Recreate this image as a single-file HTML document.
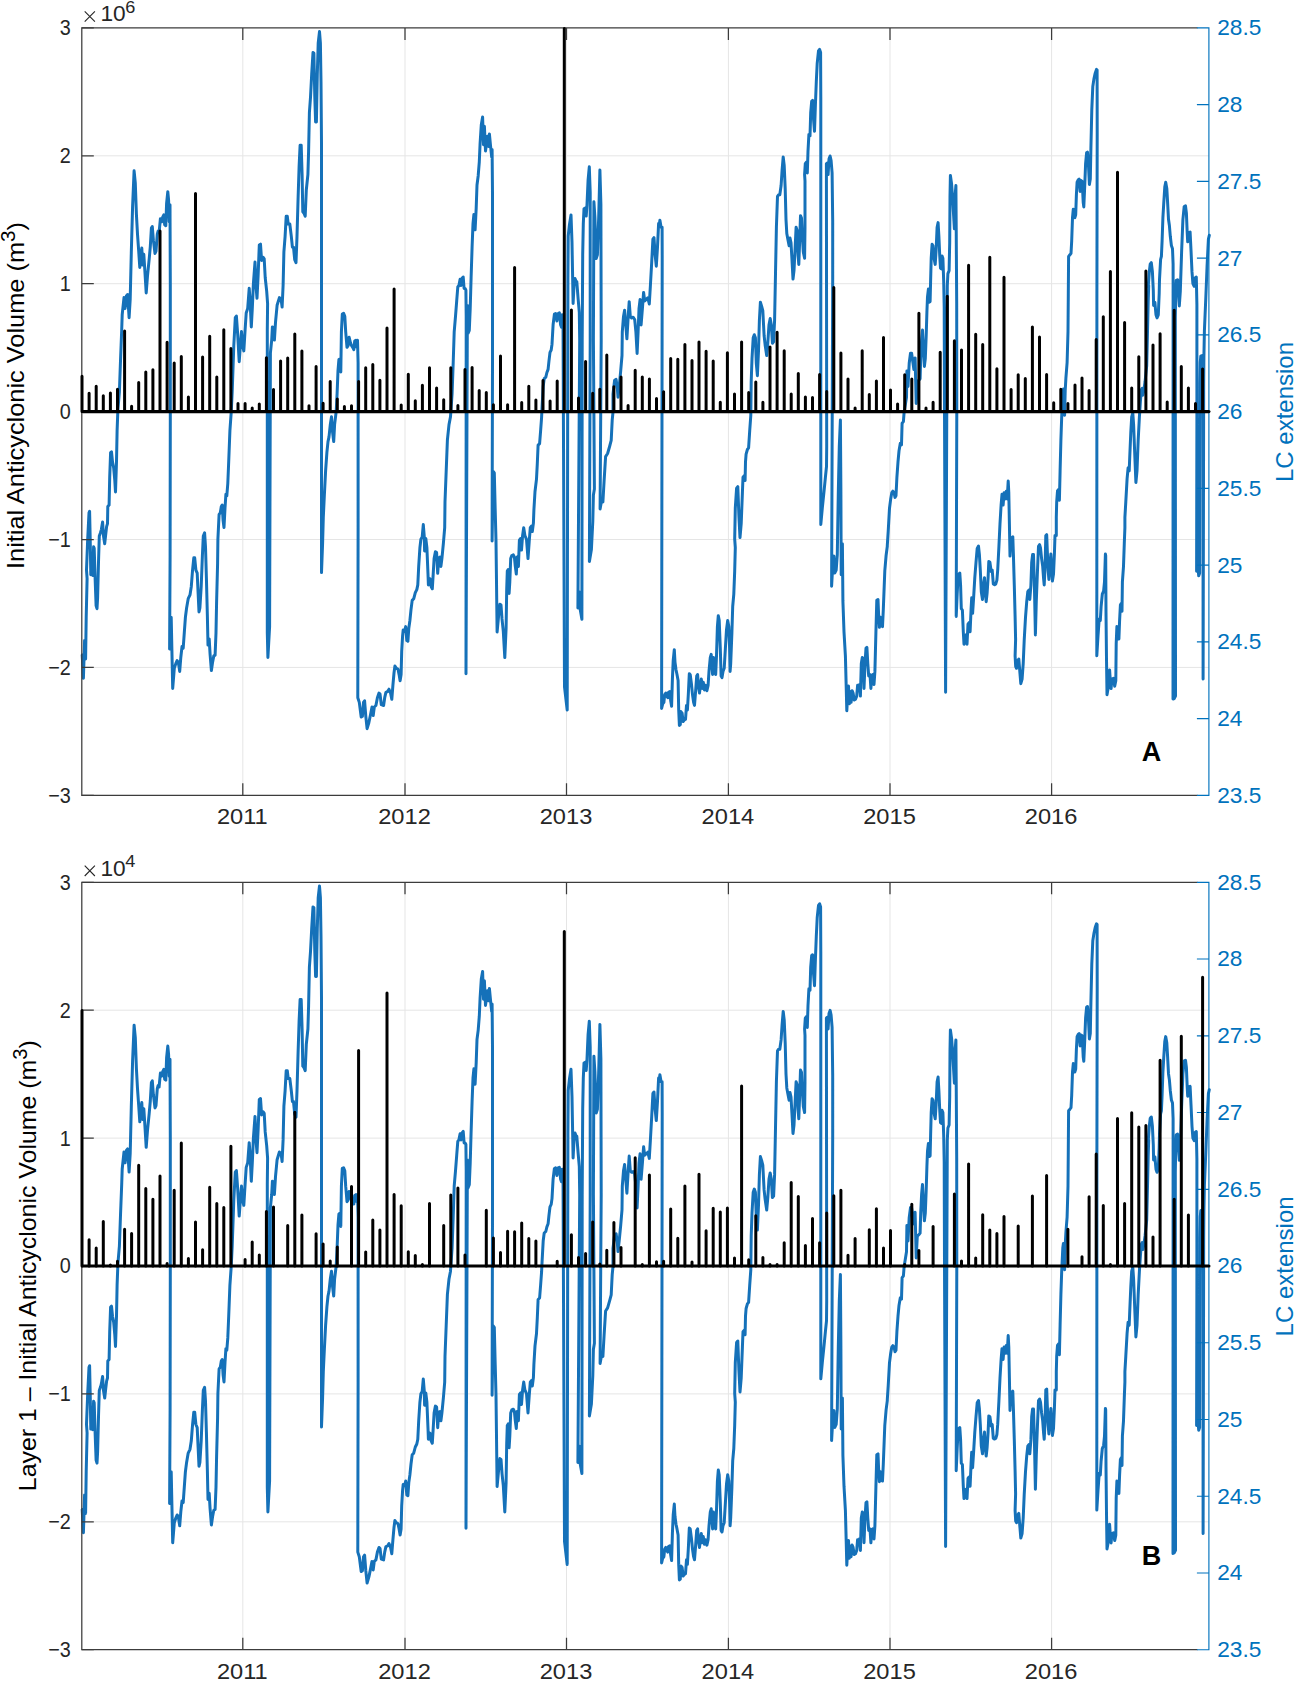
<!DOCTYPE html>
<html><head><meta charset="utf-8"><title>Figure</title>
<style>
html,body{margin:0;padding:0;background:#fff;}
svg{display:block;}
text{font-family:"Liberation Sans",sans-serif;}
.t{font-size:21.3px;fill:#262626;}
.yl{font-size:24.0px;fill:#000;}
.b{fill:#0072bd;}
.let{font-size:27px;font-weight:bold;fill:#000;}
</style></head><body>
<svg width="1299" height="1682" viewBox="0 0 1299 1682">
<rect width="1299" height="1682" fill="#fff"/>
<path d="M242.8 27.9V795.3M405.0 27.9V795.3M566.5 27.9V795.3M728.4 27.9V795.3M890.0 27.9V795.3M1051.6 27.9V795.3M81.8 155.8H1208.9M81.8 283.7H1208.9M81.8 411.6H1208.9M81.8 539.5H1208.9M81.8 667.4H1208.9" stroke="#e5e5e5" stroke-width="1" fill="none"/>
<polyline points="82.2,655.1 83.4,678.3 84.6,640.5 85.6,659.0 86.2,617.3 87.1,578.6 86.5,570.0 87.7,539.1 89.0,512.8 89.6,511.3 90.2,539.1 90.8,574.7 91.7,554.6 92.7,575.4 93.6,546.8 94.2,548.4 95.1,577.7 96.1,605.6 97.0,608.7 97.6,597.8 98.5,562.3 99.3,536.0 100.4,532.9 101.3,529.8 102.6,522.1 103.5,536.0 104.7,543.7 105.7,534.5 106.6,526.7 107.5,523.6 107.8,506.6 109.1,505.1 109.7,477.3 110.6,452.6 111.5,451.8 112.5,461.8 113.7,468.0 114.8,480.4 115.5,492.0 116.5,461.8 117.1,430.9 117.9,409.3 119.4,391.8 120.5,360.9 121.7,330.0 122.2,314.6 124.0,297.6 125.1,308.4 126.4,296.0 127.6,294.5 129.1,317.7 130.2,299.1 131.3,252.7 132.6,206.4 134.1,170.8 135.3,183.2 136.4,214.1 137.5,234.2 138.7,251.2 139.8,267.4 141.1,252.7 141.8,248.1 142.6,265.1 143.8,254.3 144.9,271.3 146.2,292.9 147.5,275.9 149.2,258.9 150.3,246.6 151.4,228.0 152.3,226.5 153.4,240.4 155.0,253.5 156.0,251.2 157.3,234.2 158.1,231.1 159.1,232.6 160.4,218.7 161.6,221.8 162.7,217.2 163.8,214.9 164.7,224.9 165.8,225.7 166.6,203.3 167.8,191.7 168.6,200.2 169.2,221.8 170.0,204.8 170.3,283.6 170.3,420.0 170.1,555.5 169.6,649.0 171.2,617.3 172.7,688.4 174.3,668.3 175.8,663.6 177.1,660.6 178.3,662.1 179.7,671.4 180.8,657.5 182.0,646.6 183.2,648.2 184.3,632.7 185.4,617.3 186.6,608.0 188.2,598.7 190.0,594.9 191.3,586.4 192.5,570.9 193.8,557.8 194.7,557.8 195.9,570.1 197.2,573.2 198.1,592.6 199.0,611.9 199.9,608.0 201.2,586.4 202.4,555.5 203.3,536.0 204.6,532.9 205.5,546.8 206.4,577.7 207.4,617.3 208.0,645.1 209.2,638.9 210.1,654.4 211.4,670.6 212.6,662.1 213.8,655.9 215.1,655.1 216.0,632.7 216.6,601.8 217.6,563.2 217.9,539.1 219.1,514.4 220.3,512.8 221.3,506.6 222.2,505.1 223.1,520.6 224.0,527.5 225.0,508.2 225.9,494.3 226.8,495.8 227.8,483.5 228.7,461.8 229.9,430.9 231.2,412.4 232.2,391.8 233.8,345.5 235.3,317.7 236.4,316.1 237.7,334.7 239.2,361.7 240.4,345.5 241.5,331.6 242.6,345.5 243.8,350.9 245.1,330.0 246.2,313.0 247.7,308.4 249.2,288.3 250.0,299.1 251.3,326.9 252.3,308.4 253.4,283.6 255.0,262.0 256.2,288.3 257.0,298.3 258.1,275.9 259.3,245.0 260.5,244.2 261.6,260.5 263.2,257.4 264.2,258.9 265.2,277.5 266.7,291.4 267.6,303.7 267.3,330.0 267.3,632.7 267.9,657.5 269.6,626.6 270.3,391.8 270.4,353.2 271.7,340.1 272.4,326.9 274.4,340.1 275.5,322.3 277.1,305.3 279.4,297.6 281.1,299.4 282.1,307.1 283.1,285.5 283.9,251.8 285.1,236.4 286.2,216.3 287.3,216.3 288.2,224.0 289.8,224.0 291.3,236.4 292.4,247.2 293.5,247.2 294.7,259.6 296.0,262.7 297.0,236.4 298.1,197.7 299.1,166.8 300.1,145.2 301.2,145.2 302.1,174.6 302.8,211.7 304.0,213.2 305.2,216.3 306.3,190.0 307.9,174.6 308.6,151.4 309.4,112.7 310.5,97.3 311.7,74.1 313.0,52.5 313.9,53.2 314.8,97.3 315.6,122.0 316.4,122.0 317.3,74.1 318.2,43.2 319.5,31.6 320.4,43.2 321.0,81.8 321.5,143.6 321.5,280.0 321.5,572.6 322.6,543.2 323.3,517.3 324.4,494.1 325.6,470.9 326.9,452.4 328.0,441.6 329.0,436.9 330.3,424.6 331.5,416.8 332.6,432.3 333.7,441.6 334.6,424.6 336.2,411.4 337.1,393.6 338.0,370.5 338.9,359.6 339.9,358.9 340.8,372.0 341.4,331.8 342.3,314.0 343.6,313.3 344.8,316.4 345.7,331.8 347.0,347.3 348.1,345.7 349.1,337.2 350.4,342.6 351.6,345.7 352.7,347.3 353.8,349.6 354.7,341.1 355.9,340.3 356.9,347.3 357.5,340.3 358.1,362.7 358.1,530.0 357.8,697.7 359.3,702.4 361.2,717.1 362.4,716.3 363.5,702.4 364.6,700.8 365.8,716.3 367.1,728.7 368.9,722.5 370.5,714.7 372.0,707.0 373.2,715.5 374.3,707.0 375.9,705.5 377.4,697.7 379.0,693.1 380.0,693.9 381.3,704.7 383.6,705.5 384.7,697.7 385.9,692.3 387.5,691.6 389.0,689.2 390.6,693.1 391.8,699.3 392.9,685.4 394.0,673.0 394.9,666.1 396.4,668.4 398.0,669.1 399.1,674.6 400.1,680.7 401.1,674.6 401.7,651.4 402.6,635.9 403.2,630.0 404.5,631.3 405.7,626.6 406.8,640.6 407.9,641.3 408.8,628.2 409.9,620.5 411.0,609.6 412.2,600.4 413.7,598.8 415.3,592.6 416.8,589.6 417.8,584.9 418.7,566.4 419.9,547.8 420.9,539.3 422.2,537.0 423.3,524.6 424.3,537.0 424.6,550.9 425.8,538.5 426.9,547.8 428.0,574.1 428.4,584.9 430.0,578.7 431.1,586.5 432.3,588.8 433.2,574.1 434.1,558.6 435.4,551.7 436.6,552.5 437.7,573.3 438.8,557.9 440.0,557.1 440.9,566.4 441.9,558.6 443.4,543.2 444.7,527.7 445.0,501.8 446.2,470.9 447.4,440.0 449.0,424.6 450.5,416.8 452.1,393.6 453.2,362.7 454.2,331.8 455.5,316.4 456.7,300.9 457.8,287.0 458.9,285.5 460.1,279.3 461.0,285.5 462.0,278.5 463.2,277.0 464.1,288.5 465.1,288.5 465.9,290.1 466.2,316.4 466.0,673.8 467.4,305.6 468.0,333.4 469.3,330.3 470.2,308.7 471.1,277.7 472.1,246.8 473.0,223.6 473.9,214.4 475.1,229.8 476.2,208.2 477.0,185.0 478.2,175.7 479.3,161.8 480.1,143.3 481.3,124.7 482.6,117.0 483.5,144.8 484.4,126.3 485.5,151.0 486.6,143.3 487.5,136.3 488.6,146.4 489.4,134.0 490.6,146.4 491.7,157.2 492.1,149.5 492.5,192.7 492.5,360.0 492.1,540.9 493.2,471.4 494.3,472.9 495.2,510.0 496.0,540.9 496.5,581.8 497.1,632.1 498.6,615.8 499.9,604.2 501.0,605.0 502.0,618.9 503.3,631.3 504.8,657.6 506.1,628.2 506.7,589.6 507.3,571.0 508.2,569.5 509.1,593.4 509.8,581.8 510.7,558.6 511.8,555.5 513.3,554.8 514.4,557.1 515.3,566.4 516.3,574.1 517.2,557.1 518.4,566.4 519.4,540.1 520.6,538.5 521.5,550.1 522.6,535.5 523.7,527.7 524.9,535.5 526.5,539.3 528.0,558.6 529.2,541.6 530.3,527.7 531.4,526.2 532.3,531.6 533.4,523.1 533.9,510.0 535.0,491.5 536.5,479.1 537.3,463.6 538.1,445.1 539.6,443.6 540.7,429.6 541.6,417.3 542.2,404.9 543.2,386.4 544.2,378.6 545.8,377.1 546.9,372.5 548.1,369.4 548.9,361.6 550.0,352.4 551.2,350.0 552.0,344.2 552.7,331.8 553.1,324.8 554.4,314.1 555.6,313.5 556.9,321.0 558.1,313.5 559.4,312.9 560.6,324.8 561.5,327.3 562.2,314.8 563.0,317.3 564.5,686.9 567.2,710.1 567.9,279.8 568.2,236.1 569.4,224.9 571.0,214.9 572.0,242.4 573.1,303.5 574.0,286.1 575.0,278.6 576.0,281.1 576.8,281.7 578.1,298.5 579.3,312.3 579.7,340.0 577.9,608.1 579.5,591.9 580.3,610.1 581.9,619.2 582.2,340.0 582.7,254.8 583.3,223.6 584.0,208.7 585.2,208.0 586.2,216.1 587.0,204.9 588.1,179.9 589.3,166.8 590.2,192.4 590.2,340.0 589.4,561.6 591.4,549.5 592.8,521.2 593.4,494.9 594.4,488.9 593.4,340.0 593.7,254.8 593.9,201.8 594.9,217.4 596.2,258.6 597.4,254.8 598.7,217.4 599.9,170.0 600.9,204.9 601.2,340.0 600.1,509.1 601.5,501.0 602.9,502.0 604.1,480.8 605.6,456.6 607.6,453.5 609.6,446.5 611.2,440.4 612.2,420.2 613.0,412.1 613.0,394.1 614.6,380.2 616.1,379.4 617.3,387.9 618.0,397.2 619.2,386.4 620.7,370.9 622.0,355.5 622.3,331.8 623.5,316.4 624.6,310.2 625.7,324.1 626.9,338.8 628.2,316.4 629.2,301.7 630.3,316.4 631.6,317.9 633.1,317.2 634.7,319.5 635.9,331.8 637.1,353.5 638.1,331.8 639.0,308.7 640.1,299.4 641.1,324.9 642.4,308.7 643.6,292.4 644.7,300.9 646.2,299.4 647.8,297.8 649.3,304.0 650.4,285.5 651.7,262.3 652.9,239.1 654.0,237.6 655.1,254.6 656.3,266.2 657.5,246.8 658.6,223.6 659.0,227.3 659.9,220.3 661.1,227.3 662.1,227.3 662.2,258.2 661.6,708.5 662.7,703.8 663.9,702.3 664.7,694.6 665.8,693.0 666.7,696.1 667.8,697.7 668.5,692.2 669.8,691.5 670.7,700.7 671.6,706.2 672.4,679.1 673.2,660.6 674.3,649.7 675.0,662.1 676.0,669.8 677.0,674.5 678.1,680.6 678.7,710.0 679.4,725.5 680.3,724.7 680.9,711.6 682.1,713.1 683.1,721.6 684.3,720.1 685.5,719.3 686.5,705.4 687.4,710.0 688.3,694.6 689.3,673.7 690.2,674.5 691.4,683.7 692.5,694.6 693.6,702.3 694.5,705.4 695.6,691.5 696.7,676.0 697.6,674.5 698.5,686.8 699.5,693.0 700.4,685.3 701.3,679.1 702.2,688.4 703.3,682.2 704.4,689.9 705.6,685.3 706.9,690.7 708.1,685.3 709.0,671.4 710.3,657.5 711.2,654.4 711.8,663.6 712.6,674.5 713.4,657.5 714.6,671.4 715.7,674.5 716.5,655.9 717.4,626.6 718.3,615.7 719.2,620.4 720.3,648.2 721.1,676.0 722.0,677.6 723.0,671.4 724.2,668.3 725.4,648.2 726.5,629.6 727.7,620.4 728.8,626.6 729.6,648.2 730.1,671.4 730.7,663.6 731.3,648.2 731.9,632.7 732.7,606.5 733.8,594.1 734.7,570.9 735.3,547.7 734.7,539.1 735.3,508.2 736.6,488.1 737.8,486.6 738.9,515.9 740.0,537.6 741.2,523.6 742.4,492.7 743.0,477.3 744.3,475.7 745.1,480.4 745.5,461.8 746.1,454.1 747.4,449.5 748.6,447.9 749.7,430.9 750.8,415.5 751.2,381.8 752.0,358.7 753.2,337.8 754.3,334.7 755.4,337.8 756.3,363.3 757.4,375.7 758.5,350.9 759.4,320.0 760.4,302.2 761.6,306.1 762.8,310.7 764.1,335.5 765.1,344.7 766.7,355.6 767.8,343.2 769.0,324.7 770.2,318.5 771.3,324.7 772.4,343.2 773.6,341.7 774.6,320.0 775.5,273.6 776.4,227.3 777.5,196.4 778.6,194.8 779.8,194.8 781.1,185.5 782.1,170.1 783.2,157.0 784.2,165.5 785.2,188.6 786.0,219.6 786.8,233.5 787.9,239.6 789.1,245.8 790.0,238.1 791.0,242.7 791.9,258.2 793.0,279.1 794.0,270.6 795.0,250.5 796.1,227.3 797.1,230.4 798.1,255.1 798.8,264.4 799.6,242.7 800.5,215.7 801.5,218.0 802.4,236.6 803.3,252.0 804.6,258.2 805.0,227.3 805.0,180.9 804.6,174.6 805.3,163.7 806.4,162.2 807.3,173.0 808.0,151.4 808.9,134.4 810.0,135.9 810.7,112.7 811.7,101.1 812.6,100.4 813.5,118.9 814.5,131.3 815.4,105.0 816.3,81.8 817.2,63.3 818.5,50.9 819.6,49.4 820.6,52.5 820.8,97.3 820.8,280.0 820.8,524.4 822.3,508.2 823.9,492.7 825.4,477.3 826.5,466.5 826.7,446.4 826.4,163.7 827.1,163.0 828.1,174.6 829.0,159.1 830.1,156.0 831.1,160.6 832.1,173.0 832.7,220.9 832.7,280.0 831.6,586.2 833.2,557.7 833.9,556.1 834.7,573.1 836.2,570.0 837.3,554.6 838.3,492.7 839.3,446.4 840.4,420.1 840.9,492.7 841.2,574.7 842.4,543.7 842.9,600.9 844.0,631.8 845.4,655.9 846.2,686.8 846.8,710.8 847.7,694.6 848.5,686.1 849.3,703.8 850.2,691.5 851.1,702.3 852.1,690.7 853.1,693.0 854.2,700.0 855.5,699.2 856.7,696.1 857.6,685.3 858.5,686.8 859.5,684.5 860.4,696.1 861.3,663.6 862.3,657.5 863.2,659.0 864.0,688.4 865.0,663.6 866.0,648.2 866.9,647.4 867.8,663.6 868.7,676.0 870.0,674.5 870.9,688.4 871.8,676.0 872.8,674.5 874.0,684.5 874.9,671.4 875.9,632.7 876.8,600.3 878.0,599.5 878.6,614.2 879.4,627.3 880.5,617.3 881.4,625.8 882.5,626.6 883.3,609.6 884.2,586.4 884.8,570.9 886.1,555.5 887.3,546.2 887.3,545.3 888.2,531.4 889.5,508.2 890.7,498.9 891.8,492.7 892.9,491.2 894.1,492.7 895.0,497.4 896.0,495.8 896.9,477.3 898.0,461.8 899.0,451.0 900.3,443.3 901.5,444.8 902.1,423.2 903.4,421.6 904.1,412.4 906.5,397.3 906.9,371.0 908.0,386.5 909.2,363.3 910.5,353.2 911.6,353.2 912.6,360.2 913.9,369.5 915.1,357.9 915.7,381.8 916.2,403.5 917.3,381.8 918.8,380.3 920.1,378.7 920.7,358.7 921.6,340.1 922.5,330.1 923.5,350.9 924.4,366.4 925.3,358.7 926.2,335.5 926.9,312.3 927.5,296.8 928.4,289.1 929.3,302.2 930.1,301.5 930.6,281.4 931.2,258.2 932.1,244.3 933.0,245.8 934.0,258.2 935.2,264.4 936.1,250.5 937.1,227.3 938.1,222.6 938.9,236.6 939.7,255.1 940.5,268.2 941.4,269.0 942.0,255.9 942.9,258.2 943.7,281.4 944.2,307.7 944.5,410.0 945.6,692.2 947.1,335.5 947.3,286.0 947.9,273.6 949.1,270.6 949.7,242.7 950.0,196.4 950.4,175.5 951.6,184.0 952.5,196.4 953.4,211.8 954.4,228.8 955.1,196.4 955.9,185.5 956.2,227.3 956.7,304.6 956.8,410.0 956.2,616.4 957.2,593.2 958.2,574.7 959.8,573.1 960.6,585.5 961.3,608.7 962.4,610.2 963.3,631.8 964.0,644.2 965.2,636.5 966.1,634.9 967.0,644.2 968.0,624.1 969.1,622.6 970.1,631.8 971.1,608.7 971.7,597.8 972.6,613.3 973.7,596.3 974.8,577.7 976.0,562.3 977.2,548.4 978.5,546.1 979.4,554.6 980.3,570.0 981.3,591.7 982.5,599.4 983.4,585.5 984.5,577.7 985.3,593.2 986.2,601.7 987.1,593.2 988.1,577.7 988.8,561.5 989.9,562.3 991.2,571.6 992.2,570.0 993.3,583.9 994.6,584.7 995.8,583.9 996.9,580.1 997.7,570.0 998.9,546.8 1000.0,523.6 1001.1,505.1 1002.0,494.3 1003.1,505.1 1004.1,492.7 1005.4,498.9 1006.3,491.2 1007.2,498.9 1008.2,481.1 1008.8,492.7 1009.4,523.6 1010.0,556.1 1010.9,539.1 1011.9,537.6 1012.8,536.8 1013.4,554.6 1014.3,585.5 1015.1,616.4 1015.6,639.6 1015.1,655.9 1015.7,666.7 1016.5,668.3 1017.7,660.6 1018.8,659.0 1019.8,671.4 1020.8,683.7 1022.1,679.1 1023.2,663.6 1024.2,640.5 1025.5,617.3 1026.7,601.8 1027.8,591.7 1028.9,590.1 1029.8,599.4 1030.9,585.5 1031.7,562.3 1032.6,554.6 1033.5,554.6 1034.4,585.5 1035.4,634.9 1036.3,600.9 1037.5,570.0 1038.5,546.3 1039.6,544.7 1040.5,547.8 1041.6,558.6 1042.7,566.4 1043.6,578.7 1044.2,584.9 1045.1,566.4 1045.8,535.5 1046.7,534.7 1047.3,550.9 1048.2,571.0 1048.9,579.5 1049.8,566.4 1050.9,554.0 1051.6,566.4 1052.4,581.1 1053.5,574.1 1054.4,554.0 1055.0,535.5 1056.3,535.5 1056.3,517.3 1056.7,501.8 1057.5,491.0 1058.6,489.5 1059.4,500.3 1060.1,470.9 1060.9,440.0 1061.7,416.8 1062.8,393.6 1063.4,389.0 1064.0,409.1 1064.6,415.3 1065.2,390.6 1065.9,378.2 1067.1,362.7 1068.0,331.8 1068.3,295.0 1068.6,256.4 1069.9,254.8 1071.0,253.3 1071.7,240.9 1072.5,217.7 1073.3,209.2 1074.2,210.0 1074.8,217.7 1075.7,214.7 1076.4,194.6 1077.1,182.2 1078.2,179.9 1079.1,179.1 1080.1,191.5 1081.0,180.6 1082.2,181.4 1083.2,202.3 1083.8,206.9 1084.7,186.8 1085.6,163.6 1086.6,152.8 1087.5,152.1 1088.4,163.6 1089.4,184.5 1090.3,179.1 1090.9,148.2 1091.8,109.6 1092.8,86.4 1094.0,78.6 1095.2,73.2 1096.5,69.4 1097.1,70.1 1097.2,132.7 1096.9,300.0 1096.8,655.7 1098.0,635.9 1099.2,618.9 1100.3,620.5 1101.1,606.6 1102.3,594.2 1103.6,591.1 1104.5,581.8 1105.4,554.0 1105.7,555.5 1106.0,612.7 1106.5,659.1 1107.0,694.7 1108.1,688.5 1108.8,674.6 1109.6,669.9 1110.4,682.3 1111.1,688.5 1111.9,679.2 1113.5,678.4 1114.7,686.2 1115.8,680.7 1116.2,643.6 1116.9,626.6 1118.1,628.2 1118.9,639.0 1119.6,620.5 1120.4,605.0 1121.2,603.5 1122.0,611.2 1122.4,581.8 1123.5,566.4 1124.3,543.2 1124.9,527.7 1124.9,517.3 1125.8,501.8 1127.1,478.7 1128.1,467.8 1129.2,470.9 1129.8,455.5 1130.8,432.3 1131.7,416.8 1132.8,413.0 1133.6,424.6 1134.8,455.5 1135.9,482.5 1137.0,470.9 1138.2,440.0 1139.4,416.8 1140.4,401.4 1141.3,389.8 1142.2,388.2 1142.8,395.2 1143.8,390.6 1145.1,381.3 1146.7,365.8 1147.5,331.8 1148.2,300.9 1148.7,285.5 1148.2,287.3 1149.3,271.8 1150.2,264.1 1151.3,262.6 1152.4,271.8 1153.3,290.4 1153.6,305.5 1154.9,302.5 1156.0,314.8 1157.0,317.9 1158.3,314.8 1159.2,293.2 1159.5,279.6 1160.6,259.5 1161.4,256.4 1162.1,240.9 1162.9,217.7 1163.8,202.3 1164.8,186.8 1165.7,182.2 1166.8,188.4 1167.6,202.3 1168.5,219.3 1169.4,225.5 1170.3,236.3 1171.4,245.6 1172.5,248.7 1173.1,264.1 1173.1,300.0 1173.0,699.0 1174.2,698.5 1175.5,696.0 1175.3,317.6 1175.8,288.9 1176.3,280.4 1177.6,279.7 1178.3,291.5 1179.3,305.9 1180.3,291.5 1181.6,252.3 1182.9,219.6 1184.2,206.5 1185.5,205.9 1186.4,213.1 1187.2,232.7 1187.7,241.8 1188.8,232.7 1190.1,232.0 1191.1,252.3 1192.0,271.9 1192.9,283.7 1194.2,286.3 1195.3,277.8 1196.3,277.1 1196.9,304.6 1196.9,419.9 1196.6,571.2 1197.4,568.0 1197.9,565.4 1198.7,575.8 1199.6,573.2 1200.0,383.0 1200.3,362.1 1200.8,356.2 1202.1,355.6 1202.7,363.4 1203.0,419.9 1203.1,679.1 1203.7,383.0 1203.9,356.9 1204.4,330.7 1205.8,298.0 1207.1,265.4 1208.4,239.2 1209.3,235.3" stroke="#1571b9" stroke-width="3" fill="none" stroke-linejoin="round" stroke-linecap="round"/>
<path d="M81.8 27.9H1196.9M81.8 795.3H1196.9M81.8 27.9V795.3" stroke="#3c3c3c" stroke-width="1.25" fill="none" stroke-linecap="square"/>
<path d="M1196.9 27.9H1208.9V795.3H1196.9" stroke="#0072bd" stroke-width="1.15" fill="none"/>
<path d="M242.8 27.9v12M242.8 795.3v-12M405.0 27.9v12M405.0 795.3v-12M566.5 27.9v12M566.5 795.3v-12M728.4 27.9v12M728.4 795.3v-12M890.0 27.9v12M890.0 795.3v-12M1051.6 27.9v12M1051.6 795.3v-12M81.8 27.9h12M81.8 155.8h12M81.8 283.7h12M81.8 411.6h12M81.8 539.5h12M81.8 667.4h12M81.8 795.3h12" stroke="#3c3c3c" stroke-width="1.25" fill="none"/>
<path d="M1208.9 104.6h-12M1208.9 181.4h-12M1208.9 258.1h-12M1208.9 334.9h-12M1208.9 411.6h-12M1208.9 488.3h-12M1208.9 565.1h-12M1208.9 641.8h-12M1208.9 718.6h-12" stroke="#0072bd" stroke-width="1.15" fill="none"/>
<path d="M82.0 411.6V376.2M89.1 411.6V393.2M96.2 411.6V386.3M103.3 411.6V395.8M110.4 411.6V392.9M117.5 411.6V389.3M124.6 411.6V331.1M131.6 411.6V406.3M138.7 411.6V382.4M145.8 411.6V371.9M152.9 411.6V369.7M160.0 411.6V230.9M167.1 411.6V342.2M174.2 411.6V363.1M181.3 411.6V356.6M188.4 411.6V397.1M195.5 411.6V193.4M202.6 411.6V356.9M209.7 411.6V336.3M216.8 411.6V377.0M223.8 411.6V329.8M230.9 411.6V348.4M238.0 411.6V403.6M245.1 411.6V403.6M252.2 411.6V407.9M259.3 411.6V404.0M266.4 411.6V357.7M273.5 411.6V389.6M280.6 411.6V360.9M287.7 411.6V357.9M294.8 411.6V334.0M301.9 411.6V351.0M309.0 411.6V405.8M316.1 411.6V366.4M323.1 411.6V403.2M330.2 411.6V381.6M337.3 411.6V398.9M344.4 411.6V406.6M351.5 411.6V405.8M358.6 411.6V381.6M365.7 411.6V367.7M372.8 411.6V364.6M379.9 411.6V380.3M387.0 411.6V328.1M394.1 411.6V289.1M401.2 411.6V405.1M408.3 411.6V374.2M415.3 411.6V400.7M422.4 411.6V385.3M429.5 411.6V367.7M436.6 411.6V388.1M443.7 411.6V399.7M450.8 411.6V367.7M457.9 411.6V405.4M465.0 411.6V369.6M472.1 411.6V367.6M479.2 411.6V390.4M486.3 411.6V392.4M493.4 411.6V404.7M500.5 411.6V356.1M507.6 411.6V404.7M514.6 411.6V267.5M521.7 411.6V402.4M528.8 411.6V386.2M535.9 411.6V400.1M543.0 411.6V380.5M550.1 411.6V400.9M557.2 411.6V381.1M564.3 411.6V28.6M571.4 411.6V309.9M578.5 411.6V398.1M585.6 411.6V361.5M592.7 411.6V393.2M599.8 411.6V389.3M606.8 411.6V355.1M613.9 411.6V386.7M621.0 411.6V376.9M628.1 411.6V405.5M635.2 411.6V370.3M642.3 411.6V376.9M649.4 411.6V378.9M656.5 411.6V398.6M663.6 411.6V391.7M670.7 411.6V358.5M677.8 411.6V359.3M684.9 411.6V344.6M692.0 411.6V360.5M699.0 411.6V341.9M706.1 411.6V351.2M713.2 411.6V361.1M720.3 411.6V402.2M727.4 411.6V352.8M734.5 411.6V394.0M741.6 411.6V341.9M748.7 411.6V392.5M755.8 411.6V382.1M762.9 411.6V402.2M770.0 411.6V346.9M777.1 411.6V332.2M784.2 411.6V350.8M791.2 411.6V394.0M798.3 411.6V373.5M805.4 411.6V397.1M812.5 411.6V397.4M819.6 411.6V374.4M826.7 411.6V391.4M833.8 411.6V287.4M840.9 411.6V353.1M848.0 411.6V379.0M855.1 411.6V407.9M862.2 411.6V350.8M869.3 411.6V394.5M876.4 411.6V380.9M883.5 411.6V337.6M890.5 411.6V389.9M897.6 411.6V404.1M904.7 411.6V374.7M911.8 411.6V379.0M918.9 411.6V313.2M926.0 411.6V407.9M933.1 411.6V402.2M940.2 411.6V352.3M947.3 411.6V296.2M954.4 411.6V340.7M961.5 411.6V350.0M968.6 411.6V265.3M975.7 411.6V334.2M982.7 411.6V344.6M989.8 411.6V257.2M996.9 411.6V368.8M1004.0 411.6V277.3M1011.1 411.6V389.4M1018.2 411.6V374.7M1025.3 411.6V378.6M1032.4 411.6V327.1M1039.5 411.6V337.0M1046.6 411.6V374.5M1053.7 411.6V402.7M1060.8 411.6V389.3M1067.9 411.6V403.5M1075.0 411.6V385.0M1082.0 411.6V378.0M1089.1 411.6V390.4M1096.2 411.6V339.4M1103.3 411.6V316.7M1110.4 411.6V271.6M1117.5 411.6V172.3M1124.6 411.6V322.4M1131.7 411.6V388.1M1138.8 411.6V356.8M1145.9 411.6V270.9M1153.0 411.6V345.1M1160.1 411.6V333.7M1167.2 411.6V402.0M1174.2 411.6V310.2M1181.3 411.6V366.5M1188.4 411.6V388.0M1195.5 411.6V403.4M1202.6 411.6V368.9" stroke="#000" stroke-width="3" fill="none" stroke-linecap="round"/>
<line x1="82.8" y1="411.6" x2="1208.9" y2="411.6" stroke="#000" stroke-width="3.2" stroke-linecap="round"/>
<text transform="translate(242.3,824.1) scale(1.11,1)" text-anchor="middle" class="t">2011</text>
<text transform="translate(404.5,824.1) scale(1.11,1)" text-anchor="middle" class="t">2012</text>
<text transform="translate(566.0,824.1) scale(1.11,1)" text-anchor="middle" class="t">2013</text>
<text transform="translate(727.9,824.1) scale(1.11,1)" text-anchor="middle" class="t">2014</text>
<text transform="translate(889.5,824.1) scale(1.11,1)" text-anchor="middle" class="t">2015</text>
<text transform="translate(1051.1,824.1) scale(1.11,1)" text-anchor="middle" class="t">2016</text>
<text transform="translate(70.8,35.3) scale(0.93,1)" text-anchor="end" class="t">3</text>
<text transform="translate(70.8,163.2) scale(0.93,1)" text-anchor="end" class="t">2</text>
<text transform="translate(70.8,291.1) scale(0.93,1)" text-anchor="end" class="t">1</text>
<text transform="translate(70.8,419.0) scale(0.93,1)" text-anchor="end" class="t">0</text>
<text transform="translate(70.8,546.9) scale(0.93,1)" text-anchor="end" class="t">−1</text>
<text transform="translate(70.8,674.8) scale(0.93,1)" text-anchor="end" class="t">−2</text>
<text transform="translate(70.8,802.7) scale(0.93,1)" text-anchor="end" class="t">−3</text>
<text transform="translate(1217.2,35.3) scale(1.065,1)" text-anchor="start" class="t b">28.5</text>
<text transform="translate(1217.2,112.0) scale(1.065,1)" text-anchor="start" class="t b">28</text>
<text transform="translate(1217.2,188.8) scale(1.065,1)" text-anchor="start" class="t b">27.5</text>
<text transform="translate(1217.2,265.5) scale(1.065,1)" text-anchor="start" class="t b">27</text>
<text transform="translate(1217.2,342.3) scale(1.065,1)" text-anchor="start" class="t b">26.5</text>
<text transform="translate(1217.2,419.0) scale(1.065,1)" text-anchor="start" class="t b">26</text>
<text transform="translate(1217.2,495.7) scale(1.065,1)" text-anchor="start" class="t b">25.5</text>
<text transform="translate(1217.2,572.5) scale(1.065,1)" text-anchor="start" class="t b">25</text>
<text transform="translate(1217.2,649.2) scale(1.065,1)" text-anchor="start" class="t b">24.5</text>
<text transform="translate(1217.2,726.0) scale(1.065,1)" text-anchor="start" class="t b">24</text>
<text transform="translate(1217.2,802.7) scale(1.065,1)" text-anchor="start" class="t b">23.5</text>
<path d="M84.7 11.3l10.2 10.3m0 -10.3l-10.2 10.3" stroke="#262626" stroke-width="1.1" fill="none"/>
<text transform="translate(100.4,21.4) scale(1.065,1)" text-anchor="start" class="t">10</text>
<text transform="translate(125.3,12.6) scale(1.065,1)" text-anchor="start" class="t" style="font-size:17px">6</text>
<text transform="translate(24.4,569.0) rotate(-90)" class="yl" textLength="347" lengthAdjust="spacingAndGlyphs">Initial Anticyclonic Volume (m<tspan dy="-9" font-size="19.5">3</tspan><tspan dy="9">)</tspan></text>
<text transform="translate(1293.2,412.0) rotate(-90)" text-anchor="middle" class="yl b">LC extension</text>
<text x="1151.5" y="761.1" text-anchor="middle" class="let">A</text>
<path d="M242.8 882.3V1649.7M405.0 882.3V1649.7M566.5 882.3V1649.7M728.4 882.3V1649.7M890.0 882.3V1649.7M1051.6 882.3V1649.7M81.8 1010.2H1208.9M81.8 1138.1H1208.9M81.8 1266.0H1208.9M81.8 1393.9H1208.9M81.8 1521.8H1208.9" stroke="#e5e5e5" stroke-width="1" fill="none"/>
<polyline points="82.2,1509.5 83.4,1532.7 84.6,1494.9 85.6,1513.4 86.2,1471.7 87.1,1433.0 86.5,1424.4 87.7,1393.5 89.0,1367.2 89.6,1365.7 90.2,1393.5 90.8,1429.1 91.7,1409.0 92.7,1429.8 93.6,1401.2 94.2,1402.8 95.1,1432.1 96.1,1460.0 97.0,1463.1 97.6,1452.2 98.5,1416.7 99.3,1390.4 100.4,1387.3 101.3,1384.2 102.6,1376.5 103.5,1390.4 104.7,1398.1 105.7,1388.9 106.6,1381.1 107.5,1378.0 107.8,1361.0 109.1,1359.5 109.7,1331.7 110.6,1307.0 111.5,1306.2 112.5,1316.2 113.7,1322.4 114.8,1334.8 115.5,1346.4 116.5,1316.2 117.1,1285.3 117.9,1263.7 119.4,1246.2 120.5,1215.3 121.7,1184.4 122.2,1169.0 124.0,1152.0 125.1,1162.8 126.4,1150.4 127.6,1148.9 129.1,1172.1 130.2,1153.5 131.3,1107.1 132.6,1060.8 134.1,1025.2 135.3,1037.6 136.4,1068.5 137.5,1088.6 138.7,1105.6 139.8,1121.8 141.1,1107.1 141.8,1102.5 142.6,1119.5 143.8,1108.7 144.9,1125.7 146.2,1147.3 147.5,1130.3 149.2,1113.3 150.3,1101.0 151.4,1082.4 152.3,1080.9 153.4,1094.8 155.0,1107.9 156.0,1105.6 157.3,1088.6 158.1,1085.5 159.1,1087.0 160.4,1073.1 161.6,1076.2 162.7,1071.6 163.8,1069.3 164.7,1079.3 165.8,1080.1 166.6,1057.7 167.8,1046.1 168.6,1054.6 169.2,1076.2 170.0,1059.2 170.3,1138.0 170.3,1274.4 170.1,1409.9 169.6,1503.4 171.2,1471.7 172.7,1542.8 174.3,1522.7 175.8,1518.0 177.1,1515.0 178.3,1516.5 179.7,1525.8 180.8,1511.9 182.0,1501.0 183.2,1502.6 184.3,1487.1 185.4,1471.7 186.6,1462.4 188.2,1453.1 190.0,1449.3 191.3,1440.8 192.5,1425.3 193.8,1412.2 194.7,1412.2 195.9,1424.5 197.2,1427.6 198.1,1447.0 199.0,1466.3 199.9,1462.4 201.2,1440.8 202.4,1409.9 203.3,1390.4 204.6,1387.3 205.5,1401.2 206.4,1432.1 207.4,1471.7 208.0,1499.5 209.2,1493.3 210.1,1508.8 211.4,1525.0 212.6,1516.5 213.8,1510.3 215.1,1509.5 216.0,1487.1 216.6,1456.2 217.6,1417.6 217.9,1393.5 219.1,1368.8 220.3,1367.2 221.3,1361.0 222.2,1359.5 223.1,1375.0 224.0,1381.9 225.0,1362.6 225.9,1348.7 226.8,1350.2 227.8,1337.9 228.7,1316.2 229.9,1285.3 231.2,1266.8 232.2,1246.2 233.8,1199.9 235.3,1172.1 236.4,1170.5 237.7,1189.1 239.2,1216.1 240.4,1199.9 241.5,1186.0 242.6,1199.9 243.8,1205.3 245.1,1184.4 246.2,1167.4 247.7,1162.8 249.2,1142.7 250.0,1153.5 251.3,1181.3 252.3,1162.8 253.4,1138.0 255.0,1116.4 256.2,1142.7 257.0,1152.7 258.1,1130.3 259.3,1099.4 260.5,1098.6 261.6,1114.9 263.2,1111.8 264.2,1113.3 265.2,1131.9 266.7,1145.8 267.6,1158.1 267.3,1184.4 267.3,1487.1 267.9,1511.9 269.6,1481.0 270.3,1246.2 270.4,1207.6 271.7,1194.5 272.4,1181.3 274.4,1194.5 275.5,1176.7 277.1,1159.7 279.4,1152.0 281.1,1153.8 282.1,1161.5 283.1,1139.9 283.9,1106.2 285.1,1090.8 286.2,1070.7 287.3,1070.7 288.2,1078.4 289.8,1078.4 291.3,1090.8 292.4,1101.6 293.5,1101.6 294.7,1114.0 296.0,1117.1 297.0,1090.8 298.1,1052.1 299.1,1021.2 300.1,999.6 301.2,999.6 302.1,1029.0 302.8,1066.1 304.0,1067.6 305.2,1070.7 306.3,1044.4 307.9,1029.0 308.6,1005.8 309.4,967.1 310.5,951.7 311.7,928.5 313.0,906.9 313.9,907.6 314.8,951.7 315.6,976.4 316.4,976.4 317.3,928.5 318.2,897.6 319.5,886.0 320.4,897.6 321.0,936.2 321.5,998.0 321.5,1134.4 321.5,1427.0 322.6,1397.6 323.3,1371.7 324.4,1348.5 325.6,1325.3 326.9,1306.8 328.0,1296.0 329.0,1291.3 330.3,1279.0 331.5,1271.2 332.6,1286.7 333.7,1296.0 334.6,1279.0 336.2,1265.8 337.1,1248.0 338.0,1224.9 338.9,1214.0 339.9,1213.3 340.8,1226.4 341.4,1186.2 342.3,1168.4 343.6,1167.7 344.8,1170.8 345.7,1186.2 347.0,1201.7 348.1,1200.1 349.1,1191.6 350.4,1197.0 351.6,1200.1 352.7,1201.7 353.8,1204.0 354.7,1195.5 355.9,1194.7 356.9,1201.7 357.5,1194.7 358.1,1217.1 358.1,1384.4 357.8,1552.1 359.3,1556.8 361.2,1571.5 362.4,1570.7 363.5,1556.8 364.6,1555.2 365.8,1570.7 367.1,1583.1 368.9,1576.9 370.5,1569.1 372.0,1561.4 373.2,1569.9 374.3,1561.4 375.9,1559.9 377.4,1552.1 379.0,1547.5 380.0,1548.3 381.3,1559.1 383.6,1559.9 384.7,1552.1 385.9,1546.7 387.5,1546.0 389.0,1543.6 390.6,1547.5 391.8,1553.7 392.9,1539.8 394.0,1527.4 394.9,1520.5 396.4,1522.8 398.0,1523.5 399.1,1529.0 400.1,1535.1 401.1,1529.0 401.7,1505.8 402.6,1490.3 403.2,1484.4 404.5,1485.7 405.7,1481.0 406.8,1495.0 407.9,1495.7 408.8,1482.6 409.9,1474.9 411.0,1464.0 412.2,1454.8 413.7,1453.2 415.3,1447.0 416.8,1444.0 417.8,1439.3 418.7,1420.8 419.9,1402.2 420.9,1393.7 422.2,1391.4 423.3,1379.0 424.3,1391.4 424.6,1405.3 425.8,1392.9 426.9,1402.2 428.0,1428.5 428.4,1439.3 430.0,1433.1 431.1,1440.9 432.3,1443.2 433.2,1428.5 434.1,1413.0 435.4,1406.1 436.6,1406.9 437.7,1427.7 438.8,1412.3 440.0,1411.5 440.9,1420.8 441.9,1413.0 443.4,1397.6 444.7,1382.1 445.0,1356.2 446.2,1325.3 447.4,1294.4 449.0,1279.0 450.5,1271.2 452.1,1248.0 453.2,1217.1 454.2,1186.2 455.5,1170.8 456.7,1155.3 457.8,1141.4 458.9,1139.9 460.1,1133.7 461.0,1139.9 462.0,1132.9 463.2,1131.4 464.1,1142.9 465.1,1142.9 465.9,1144.5 466.2,1170.8 466.0,1528.2 467.4,1160.0 468.0,1187.8 469.3,1184.7 470.2,1163.1 471.1,1132.1 472.1,1101.2 473.0,1078.0 473.9,1068.8 475.1,1084.2 476.2,1062.6 477.0,1039.4 478.2,1030.1 479.3,1016.2 480.1,997.7 481.3,979.1 482.6,971.4 483.5,999.2 484.4,980.7 485.5,1005.4 486.6,997.7 487.5,990.7 488.6,1000.8 489.4,988.4 490.6,1000.8 491.7,1011.6 492.1,1003.9 492.5,1047.1 492.5,1214.4 492.1,1395.3 493.2,1325.8 494.3,1327.3 495.2,1364.4 496.0,1395.3 496.5,1436.2 497.1,1486.5 498.6,1470.2 499.9,1458.6 501.0,1459.4 502.0,1473.3 503.3,1485.7 504.8,1512.0 506.1,1482.6 506.7,1444.0 507.3,1425.4 508.2,1423.9 509.1,1447.8 509.8,1436.2 510.7,1413.0 511.8,1409.9 513.3,1409.2 514.4,1411.5 515.3,1420.8 516.3,1428.5 517.2,1411.5 518.4,1420.8 519.4,1394.5 520.6,1392.9 521.5,1404.5 522.6,1389.9 523.7,1382.1 524.9,1389.9 526.5,1393.7 528.0,1413.0 529.2,1396.0 530.3,1382.1 531.4,1380.6 532.3,1386.0 533.4,1377.5 533.9,1364.4 535.0,1345.9 536.5,1333.5 537.3,1318.0 538.1,1299.5 539.6,1298.0 540.7,1284.0 541.6,1271.7 542.2,1259.3 543.2,1240.8 544.2,1233.0 545.8,1231.5 546.9,1226.9 548.1,1223.8 548.9,1216.0 550.0,1206.8 551.2,1204.4 552.0,1198.6 552.7,1186.2 553.1,1179.2 554.4,1168.5 555.6,1167.9 556.9,1175.4 558.1,1167.9 559.4,1167.3 560.6,1179.2 561.5,1181.7 562.2,1169.2 563.0,1171.7 564.5,1541.3 567.2,1564.5 567.9,1134.2 568.2,1090.5 569.4,1079.3 571.0,1069.3 572.0,1096.8 573.1,1157.9 574.0,1140.5 575.0,1133.0 576.0,1135.5 576.8,1136.1 578.1,1152.9 579.3,1166.7 579.7,1194.4 577.9,1462.5 579.5,1446.3 580.3,1464.5 581.9,1473.6 582.2,1194.4 582.7,1109.2 583.3,1078.0 584.0,1063.1 585.2,1062.4 586.2,1070.5 587.0,1059.3 588.1,1034.3 589.3,1021.2 590.2,1046.8 590.2,1194.4 589.4,1416.0 591.4,1403.9 592.8,1375.6 593.4,1349.3 594.4,1343.3 593.4,1194.4 593.7,1109.2 593.9,1056.2 594.9,1071.8 596.2,1113.0 597.4,1109.2 598.7,1071.8 599.9,1024.4 600.9,1059.3 601.2,1194.4 600.1,1363.5 601.5,1355.4 602.9,1356.4 604.1,1335.2 605.6,1311.0 607.6,1307.9 609.6,1300.9 611.2,1294.8 612.2,1274.6 613.0,1266.5 613.0,1248.5 614.6,1234.6 616.1,1233.8 617.3,1242.3 618.0,1251.6 619.2,1240.8 620.7,1225.3 622.0,1209.9 622.3,1186.2 623.5,1170.8 624.6,1164.6 625.7,1178.5 626.9,1193.2 628.2,1170.8 629.2,1156.1 630.3,1170.8 631.6,1172.3 633.1,1171.6 634.7,1173.9 635.9,1186.2 637.1,1207.9 638.1,1186.2 639.0,1163.1 640.1,1153.8 641.1,1179.3 642.4,1163.1 643.6,1146.8 644.7,1155.3 646.2,1153.8 647.8,1152.2 649.3,1158.4 650.4,1139.9 651.7,1116.7 652.9,1093.5 654.0,1092.0 655.1,1109.0 656.3,1120.6 657.5,1101.2 658.6,1078.0 659.0,1081.7 659.9,1074.7 661.1,1081.7 662.1,1081.7 662.2,1112.6 661.6,1562.9 662.7,1558.2 663.9,1556.7 664.7,1549.0 665.8,1547.4 666.7,1550.5 667.8,1552.1 668.5,1546.6 669.8,1545.9 670.7,1555.1 671.6,1560.6 672.4,1533.5 673.2,1515.0 674.3,1504.1 675.0,1516.5 676.0,1524.2 677.0,1528.9 678.1,1535.0 678.7,1564.4 679.4,1579.9 680.3,1579.1 680.9,1566.0 682.1,1567.5 683.1,1576.0 684.3,1574.5 685.5,1573.7 686.5,1559.8 687.4,1564.4 688.3,1549.0 689.3,1528.1 690.2,1528.9 691.4,1538.1 692.5,1549.0 693.6,1556.7 694.5,1559.8 695.6,1545.9 696.7,1530.4 697.6,1528.9 698.5,1541.2 699.5,1547.4 700.4,1539.7 701.3,1533.5 702.2,1542.8 703.3,1536.6 704.4,1544.3 705.6,1539.7 706.9,1545.1 708.1,1539.7 709.0,1525.8 710.3,1511.9 711.2,1508.8 711.8,1518.0 712.6,1528.9 713.4,1511.9 714.6,1525.8 715.7,1528.9 716.5,1510.3 717.4,1481.0 718.3,1470.1 719.2,1474.8 720.3,1502.6 721.1,1530.4 722.0,1532.0 723.0,1525.8 724.2,1522.7 725.4,1502.6 726.5,1484.0 727.7,1474.8 728.8,1481.0 729.6,1502.6 730.1,1525.8 730.7,1518.0 731.3,1502.6 731.9,1487.1 732.7,1460.9 733.8,1448.5 734.7,1425.3 735.3,1402.1 734.7,1393.5 735.3,1362.6 736.6,1342.5 737.8,1341.0 738.9,1370.3 740.0,1392.0 741.2,1378.0 742.4,1347.1 743.0,1331.7 744.3,1330.1 745.1,1334.8 745.5,1316.2 746.1,1308.5 747.4,1303.9 748.6,1302.3 749.7,1285.3 750.8,1269.9 751.2,1236.2 752.0,1213.1 753.2,1192.2 754.3,1189.1 755.4,1192.2 756.3,1217.7 757.4,1230.1 758.5,1205.3 759.4,1174.4 760.4,1156.6 761.6,1160.5 762.8,1165.1 764.1,1189.9 765.1,1199.1 766.7,1210.0 767.8,1197.6 769.0,1179.1 770.2,1172.9 771.3,1179.1 772.4,1197.6 773.6,1196.1 774.6,1174.4 775.5,1128.0 776.4,1081.7 777.5,1050.8 778.6,1049.2 779.8,1049.2 781.1,1039.9 782.1,1024.5 783.2,1011.4 784.2,1019.9 785.2,1043.0 786.0,1074.0 786.8,1087.9 787.9,1094.0 789.1,1100.2 790.0,1092.5 791.0,1097.1 791.9,1112.6 793.0,1133.5 794.0,1125.0 795.0,1104.9 796.1,1081.7 797.1,1084.8 798.1,1109.5 798.8,1118.8 799.6,1097.1 800.5,1070.1 801.5,1072.4 802.4,1091.0 803.3,1106.4 804.6,1112.6 805.0,1081.7 805.0,1035.3 804.6,1029.0 805.3,1018.1 806.4,1016.6 807.3,1027.4 808.0,1005.8 808.9,988.8 810.0,990.3 810.7,967.1 811.7,955.5 812.6,954.8 813.5,973.3 814.5,985.7 815.4,959.4 816.3,936.2 817.2,917.7 818.5,905.3 819.6,903.8 820.6,906.9 820.8,951.7 820.8,1134.4 820.8,1378.8 822.3,1362.6 823.9,1347.1 825.4,1331.7 826.5,1320.9 826.7,1300.8 826.4,1018.1 827.1,1017.4 828.1,1029.0 829.0,1013.5 830.1,1010.4 831.1,1015.0 832.1,1027.4 832.7,1075.3 832.7,1134.4 831.6,1440.6 833.2,1412.1 833.9,1410.5 834.7,1427.5 836.2,1424.4 837.3,1409.0 838.3,1347.1 839.3,1300.8 840.4,1274.5 840.9,1347.1 841.2,1429.1 842.4,1398.1 842.9,1455.3 844.0,1486.2 845.4,1510.3 846.2,1541.2 846.8,1565.2 847.7,1549.0 848.5,1540.5 849.3,1558.2 850.2,1545.9 851.1,1556.7 852.1,1545.1 853.1,1547.4 854.2,1554.4 855.5,1553.6 856.7,1550.5 857.6,1539.7 858.5,1541.2 859.5,1538.9 860.4,1550.5 861.3,1518.0 862.3,1511.9 863.2,1513.4 864.0,1542.8 865.0,1518.0 866.0,1502.6 866.9,1501.8 867.8,1518.0 868.7,1530.4 870.0,1528.9 870.9,1542.8 871.8,1530.4 872.8,1528.9 874.0,1538.9 874.9,1525.8 875.9,1487.1 876.8,1454.7 878.0,1453.9 878.6,1468.6 879.4,1481.7 880.5,1471.7 881.4,1480.2 882.5,1481.0 883.3,1464.0 884.2,1440.8 884.8,1425.3 886.1,1409.9 887.3,1400.6 887.3,1399.7 888.2,1385.8 889.5,1362.6 890.7,1353.3 891.8,1347.1 892.9,1345.6 894.1,1347.1 895.0,1351.8 896.0,1350.2 896.9,1331.7 898.0,1316.2 899.0,1305.4 900.3,1297.7 901.5,1299.2 902.1,1277.6 903.4,1276.0 904.1,1266.8 906.5,1251.7 906.9,1225.4 908.0,1240.9 909.2,1217.7 910.5,1207.6 911.6,1207.6 912.6,1214.6 913.9,1223.9 915.1,1212.3 915.7,1236.2 916.2,1257.9 917.3,1236.2 918.8,1234.7 920.1,1233.1 920.7,1213.1 921.6,1194.5 922.5,1184.5 923.5,1205.3 924.4,1220.8 925.3,1213.1 926.2,1189.9 926.9,1166.7 927.5,1151.2 928.4,1143.5 929.3,1156.6 930.1,1155.9 930.6,1135.8 931.2,1112.6 932.1,1098.7 933.0,1100.2 934.0,1112.6 935.2,1118.8 936.1,1104.9 937.1,1081.7 938.1,1077.0 938.9,1091.0 939.7,1109.5 940.5,1122.6 941.4,1123.4 942.0,1110.3 942.9,1112.6 943.7,1135.8 944.2,1162.1 944.5,1264.4 945.6,1546.6 947.1,1189.9 947.3,1140.4 947.9,1128.0 949.1,1125.0 949.7,1097.1 950.0,1050.8 950.4,1029.9 951.6,1038.4 952.5,1050.8 953.4,1066.2 954.4,1083.2 955.1,1050.8 955.9,1039.9 956.2,1081.7 956.7,1159.0 956.8,1264.4 956.2,1470.8 957.2,1447.6 958.2,1429.1 959.8,1427.5 960.6,1439.9 961.3,1463.1 962.4,1464.6 963.3,1486.2 964.0,1498.6 965.2,1490.9 966.1,1489.3 967.0,1498.6 968.0,1478.5 969.1,1477.0 970.1,1486.2 971.1,1463.1 971.7,1452.2 972.6,1467.7 973.7,1450.7 974.8,1432.1 976.0,1416.7 977.2,1402.8 978.5,1400.5 979.4,1409.0 980.3,1424.4 981.3,1446.1 982.5,1453.8 983.4,1439.9 984.5,1432.1 985.3,1447.6 986.2,1456.1 987.1,1447.6 988.1,1432.1 988.8,1415.9 989.9,1416.7 991.2,1426.0 992.2,1424.4 993.3,1438.3 994.6,1439.1 995.8,1438.3 996.9,1434.5 997.7,1424.4 998.9,1401.2 1000.0,1378.0 1001.1,1359.5 1002.0,1348.7 1003.1,1359.5 1004.1,1347.1 1005.4,1353.3 1006.3,1345.6 1007.2,1353.3 1008.2,1335.5 1008.8,1347.1 1009.4,1378.0 1010.0,1410.5 1010.9,1393.5 1011.9,1392.0 1012.8,1391.2 1013.4,1409.0 1014.3,1439.9 1015.1,1470.8 1015.6,1494.0 1015.1,1510.3 1015.7,1521.1 1016.5,1522.7 1017.7,1515.0 1018.8,1513.4 1019.8,1525.8 1020.8,1538.1 1022.1,1533.5 1023.2,1518.0 1024.2,1494.9 1025.5,1471.7 1026.7,1456.2 1027.8,1446.1 1028.9,1444.5 1029.8,1453.8 1030.9,1439.9 1031.7,1416.7 1032.6,1409.0 1033.5,1409.0 1034.4,1439.9 1035.4,1489.3 1036.3,1455.3 1037.5,1424.4 1038.5,1400.7 1039.6,1399.1 1040.5,1402.2 1041.6,1413.0 1042.7,1420.8 1043.6,1433.1 1044.2,1439.3 1045.1,1420.8 1045.8,1389.9 1046.7,1389.1 1047.3,1405.3 1048.2,1425.4 1048.9,1433.9 1049.8,1420.8 1050.9,1408.4 1051.6,1420.8 1052.4,1435.5 1053.5,1428.5 1054.4,1408.4 1055.0,1389.9 1056.3,1389.9 1056.3,1371.7 1056.7,1356.2 1057.5,1345.4 1058.6,1343.9 1059.4,1354.7 1060.1,1325.3 1060.9,1294.4 1061.7,1271.2 1062.8,1248.0 1063.4,1243.4 1064.0,1263.5 1064.6,1269.7 1065.2,1245.0 1065.9,1232.6 1067.1,1217.1 1068.0,1186.2 1068.3,1149.4 1068.6,1110.8 1069.9,1109.2 1071.0,1107.7 1071.7,1095.3 1072.5,1072.1 1073.3,1063.6 1074.2,1064.4 1074.8,1072.1 1075.7,1069.1 1076.4,1049.0 1077.1,1036.6 1078.2,1034.3 1079.1,1033.5 1080.1,1045.9 1081.0,1035.0 1082.2,1035.8 1083.2,1056.7 1083.8,1061.3 1084.7,1041.2 1085.6,1018.0 1086.6,1007.2 1087.5,1006.5 1088.4,1018.0 1089.4,1038.9 1090.3,1033.5 1090.9,1002.6 1091.8,964.0 1092.8,940.8 1094.0,933.0 1095.2,927.6 1096.5,923.8 1097.1,924.5 1097.2,987.1 1096.9,1154.4 1096.8,1510.1 1098.0,1490.3 1099.2,1473.3 1100.3,1474.9 1101.1,1461.0 1102.3,1448.6 1103.6,1445.5 1104.5,1436.2 1105.4,1408.4 1105.7,1409.9 1106.0,1467.1 1106.5,1513.5 1107.0,1549.1 1108.1,1542.9 1108.8,1529.0 1109.6,1524.3 1110.4,1536.7 1111.1,1542.9 1111.9,1533.6 1113.5,1532.8 1114.7,1540.6 1115.8,1535.1 1116.2,1498.0 1116.9,1481.0 1118.1,1482.6 1118.9,1493.4 1119.6,1474.9 1120.4,1459.4 1121.2,1457.9 1122.0,1465.6 1122.4,1436.2 1123.5,1420.8 1124.3,1397.6 1124.9,1382.1 1124.9,1371.7 1125.8,1356.2 1127.1,1333.1 1128.1,1322.2 1129.2,1325.3 1129.8,1309.9 1130.8,1286.7 1131.7,1271.2 1132.8,1267.4 1133.6,1279.0 1134.8,1309.9 1135.9,1336.9 1137.0,1325.3 1138.2,1294.4 1139.4,1271.2 1140.4,1255.8 1141.3,1244.2 1142.2,1242.6 1142.8,1249.6 1143.8,1245.0 1145.1,1235.7 1146.7,1220.2 1147.5,1186.2 1148.2,1155.3 1148.7,1139.9 1148.2,1141.7 1149.3,1126.2 1150.2,1118.5 1151.3,1117.0 1152.4,1126.2 1153.3,1144.8 1153.6,1159.9 1154.9,1156.9 1156.0,1169.2 1157.0,1172.3 1158.3,1169.2 1159.2,1147.6 1159.5,1134.0 1160.6,1113.9 1161.4,1110.8 1162.1,1095.3 1162.9,1072.1 1163.8,1056.7 1164.8,1041.2 1165.7,1036.6 1166.8,1042.8 1167.6,1056.7 1168.5,1073.7 1169.4,1079.9 1170.3,1090.7 1171.4,1100.0 1172.5,1103.1 1173.1,1118.5 1173.1,1154.4 1173.0,1553.4 1174.2,1552.9 1175.5,1550.4 1175.3,1172.0 1175.8,1143.3 1176.3,1134.8 1177.6,1134.1 1178.3,1145.9 1179.3,1160.3 1180.3,1145.9 1181.6,1106.7 1182.9,1074.0 1184.2,1060.9 1185.5,1060.3 1186.4,1067.5 1187.2,1087.1 1187.7,1096.2 1188.8,1087.1 1190.1,1086.4 1191.1,1106.7 1192.0,1126.3 1192.9,1138.1 1194.2,1140.7 1195.3,1132.2 1196.3,1131.5 1196.9,1159.0 1196.9,1274.3 1196.6,1425.6 1197.4,1422.4 1197.9,1419.8 1198.7,1430.2 1199.6,1427.6 1200.0,1237.4 1200.3,1216.5 1200.8,1210.6 1202.1,1210.0 1202.7,1217.8 1203.0,1274.3 1203.1,1533.5 1203.7,1237.4 1203.9,1211.3 1204.4,1185.1 1205.8,1152.4 1207.1,1119.8 1208.4,1093.6 1209.3,1089.7" stroke="#1571b9" stroke-width="3" fill="none" stroke-linejoin="round" stroke-linecap="round"/>
<path d="M81.8 882.3H1196.9M81.8 1649.6999999999998H1196.9M81.8 882.3V1649.6999999999998" stroke="#3c3c3c" stroke-width="1.25" fill="none" stroke-linecap="square"/>
<path d="M1196.9 882.3H1208.9V1649.6999999999998H1196.9" stroke="#0072bd" stroke-width="1.15" fill="none"/>
<path d="M242.8 882.3v12M242.8 1649.6999999999998v-12M405.0 882.3v12M405.0 1649.6999999999998v-12M566.5 882.3v12M566.5 1649.6999999999998v-12M728.4 882.3v12M728.4 1649.6999999999998v-12M890.0 882.3v12M890.0 1649.6999999999998v-12M1051.6 882.3v12M1051.6 1649.6999999999998v-12M81.8 882.3h12M81.8 1010.2h12M81.8 1138.1h12M81.8 1266.0h12M81.8 1393.9h12M81.8 1521.8h12M81.8 1649.7h12" stroke="#3c3c3c" stroke-width="1.25" fill="none"/>
<path d="M1208.9 959.0h-12M1208.9 1035.8h-12M1208.9 1112.5h-12M1208.9 1189.3h-12M1208.9 1266.0h-12M1208.9 1342.7h-12M1208.9 1419.5h-12M1208.9 1496.2h-12M1208.9 1573.0h-12" stroke="#0072bd" stroke-width="1.15" fill="none"/>
<path d="M82.0 1266.0V1010.6M89.1 1266.0V1239.7M96.2 1266.0V1247.9M103.3 1266.0V1221.5M110.4 1266.0V1264.9M117.5 1266.0V1261.3M124.6 1266.0V1229.2M131.6 1266.0V1233.5M138.7 1266.0V1165.2M145.8 1266.0V1188.4M152.9 1266.0V1199.2M160.0 1266.0V1176.0M167.1 1266.0V1263.6M174.2 1266.0V1190.3M181.3 1266.0V1143.1M188.4 1266.0V1258.6M195.5 1266.0V1221.9M202.6 1266.0V1249.8M209.7 1266.0V1187.2M216.8 1266.0V1203.4M223.8 1266.0V1207.6M230.9 1266.0V1146.2M245.1 1266.0V1259.5M252.2 1266.0V1242.0M259.3 1266.0V1254.9M266.4 1266.0V1211.6M273.5 1266.0V1206.9M287.7 1266.0V1225.5M294.8 1266.0V1112.2M301.9 1266.0V1215.0M316.1 1266.0V1233.8M323.1 1266.0V1244.0M330.2 1266.0V1261.0M337.3 1266.0V1247.1M351.5 1266.0V1186.4M358.6 1266.0V1050.4M365.7 1266.0V1252.1M372.8 1266.0V1219.9M379.9 1266.0V1230.1M387.0 1266.0V993.0M394.1 1266.0V1194.6M401.2 1266.0V1205.7M408.3 1266.0V1251.8M415.3 1266.0V1255.5M422.4 1266.0V1264.6M429.5 1266.0V1203.4M443.7 1266.0V1225.5M450.8 1266.0V1194.9M457.9 1266.0V1187.9M465.0 1266.0V1254.9M486.3 1266.0V1210.3M493.4 1266.0V1237.9M500.5 1266.0V1252.4M507.6 1266.0V1231.2M514.6 1266.0V1231.7M521.7 1266.0V1223.0M528.8 1266.0V1238.5M535.9 1266.0V1240.9M557.2 1266.0V1261.3M564.3 1266.0V931.6M571.4 1266.0V1234.8M578.5 1266.0V1257.5M585.6 1266.0V1253.6M592.7 1266.0V1221.9M599.8 1266.0V1264.1M606.8 1266.0V1250.2M613.9 1266.0V1222.4M621.0 1266.0V1247.4M635.2 1266.0V1157.8M642.3 1266.0V1264.4M649.4 1266.0V1175.1M656.5 1266.0V1261.7M663.6 1266.0V1261.3M670.7 1266.0V1209.1M677.8 1266.0V1238.2M684.9 1266.0V1186.1M692.0 1266.0V1262.1M699.0 1266.0V1174.3M706.1 1266.0V1230.7M713.2 1266.0V1208.3M720.3 1266.0V1211.9M727.4 1266.0V1208.0M734.5 1266.0V1257.9M741.6 1266.0V1085.9M748.7 1266.0V1259.8M755.8 1266.0V1215.8M762.9 1266.0V1257.5M770.0 1266.0V1264.6M777.1 1266.0V1264.4M784.2 1266.0V1242.8M791.2 1266.0V1182.5M798.3 1266.0V1196.4M805.4 1266.0V1245.6M812.5 1266.0V1218.4M819.6 1266.0V1242.8M826.7 1266.0V1213.1M833.8 1266.0V1195.7M840.9 1266.0V1190.3M848.0 1266.0V1255.2M855.1 1266.0V1238.5M869.3 1266.0V1229.7M876.4 1266.0V1208.8M883.5 1266.0V1247.9M890.5 1266.0V1230.4M904.7 1266.0V1264.6M911.8 1266.0V1204.2M918.9 1266.0V1250.5M933.1 1266.0V1226.6M954.4 1266.0V1194.1M961.5 1266.0V1261.0M968.6 1266.0V1164.0M975.7 1266.0V1257.9M982.7 1266.0V1214.7M989.8 1266.0V1230.1M996.9 1266.0V1233.5M1004.0 1266.0V1216.5M1018.2 1266.0V1226.1M1032.4 1266.0V1196.1M1046.6 1266.0V1175.6M1067.9 1266.0V1229.2M1082.0 1266.0V1256.7M1089.1 1266.0V1196.7M1096.2 1266.0V1153.9M1103.3 1266.0V1205.4M1110.4 1266.0V1264.6M1117.5 1266.0V1118.4M1124.6 1266.0V1203.4M1131.7 1266.0V1112.7M1138.8 1266.0V1126.9M1145.9 1266.0V1125.6M1153.0 1266.0V1236.9M1160.1 1266.0V1060.2M1174.2 1266.0V1199.2M1181.3 1266.0V1036.2M1188.4 1266.0V1215.0M1202.6 1266.0V977.3" stroke="#000" stroke-width="3" fill="none" stroke-linecap="round"/>
<line x1="82.8" y1="1266.0" x2="1208.9" y2="1266.0" stroke="#000" stroke-width="3.2" stroke-linecap="round"/>
<text transform="translate(242.3,1678.5) scale(1.11,1)" text-anchor="middle" class="t">2011</text>
<text transform="translate(404.5,1678.5) scale(1.11,1)" text-anchor="middle" class="t">2012</text>
<text transform="translate(566.0,1678.5) scale(1.11,1)" text-anchor="middle" class="t">2013</text>
<text transform="translate(727.9,1678.5) scale(1.11,1)" text-anchor="middle" class="t">2014</text>
<text transform="translate(889.5,1678.5) scale(1.11,1)" text-anchor="middle" class="t">2015</text>
<text transform="translate(1051.1,1678.5) scale(1.11,1)" text-anchor="middle" class="t">2016</text>
<text transform="translate(70.8,889.7) scale(0.93,1)" text-anchor="end" class="t">3</text>
<text transform="translate(70.8,1017.6) scale(0.93,1)" text-anchor="end" class="t">2</text>
<text transform="translate(70.8,1145.5) scale(0.93,1)" text-anchor="end" class="t">1</text>
<text transform="translate(70.8,1273.4) scale(0.93,1)" text-anchor="end" class="t">0</text>
<text transform="translate(70.8,1401.3) scale(0.93,1)" text-anchor="end" class="t">−1</text>
<text transform="translate(70.8,1529.2) scale(0.93,1)" text-anchor="end" class="t">−2</text>
<text transform="translate(70.8,1657.1) scale(0.93,1)" text-anchor="end" class="t">−3</text>
<text transform="translate(1217.2,889.7) scale(1.065,1)" text-anchor="start" class="t b">28.5</text>
<text transform="translate(1217.2,966.4) scale(1.065,1)" text-anchor="start" class="t b">28</text>
<text transform="translate(1217.2,1043.2) scale(1.065,1)" text-anchor="start" class="t b">27.5</text>
<text transform="translate(1217.2,1119.9) scale(1.065,1)" text-anchor="start" class="t b">27</text>
<text transform="translate(1217.2,1196.7) scale(1.065,1)" text-anchor="start" class="t b">26.5</text>
<text transform="translate(1217.2,1273.4) scale(1.065,1)" text-anchor="start" class="t b">26</text>
<text transform="translate(1217.2,1350.1) scale(1.065,1)" text-anchor="start" class="t b">25.5</text>
<text transform="translate(1217.2,1426.9) scale(1.065,1)" text-anchor="start" class="t b">25</text>
<text transform="translate(1217.2,1503.6) scale(1.065,1)" text-anchor="start" class="t b">24.5</text>
<text transform="translate(1217.2,1580.4) scale(1.065,1)" text-anchor="start" class="t b">24</text>
<text transform="translate(1217.2,1657.1) scale(1.065,1)" text-anchor="start" class="t b">23.5</text>
<path d="M84.7 865.7l10.2 10.3m0 -10.3l-10.2 10.3" stroke="#262626" stroke-width="1.1" fill="none"/>
<text transform="translate(100.4,875.8) scale(1.065,1)" text-anchor="start" class="t">10</text>
<text transform="translate(125.3,867.0) scale(1.065,1)" text-anchor="start" class="t" style="font-size:17px">4</text>
<text transform="translate(35.5,1491.2) rotate(-90)" class="yl" textLength="451" lengthAdjust="spacingAndGlyphs">Layer 1 – Initial Anticyclonic Volume (m<tspan dy="-9" font-size="19.5">3</tspan><tspan dy="9">)</tspan></text>
<text transform="translate(1293.2,1266.4) rotate(-90)" text-anchor="middle" class="yl b">LC extension</text>
<text x="1151.5" y="1565.0" text-anchor="middle" class="let">B</text>
</svg>
</body></html>
